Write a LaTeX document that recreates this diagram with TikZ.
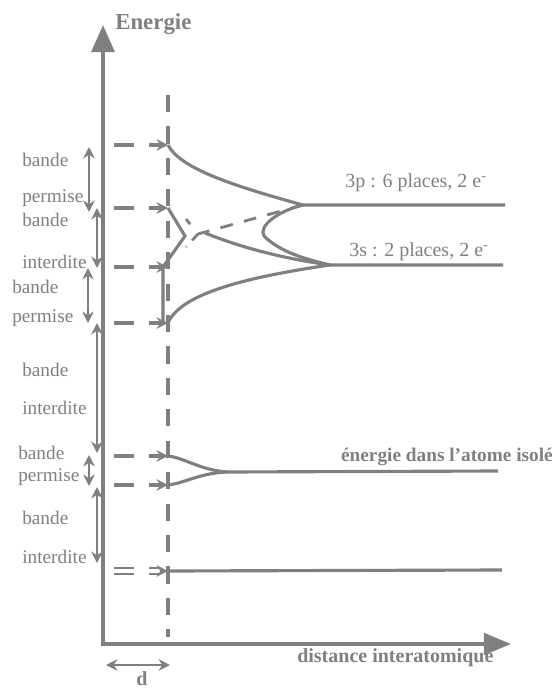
\documentclass[tikz,border=0pt]{standalone}
\usepackage{fontspec}
\setmainfont{Liberation Serif}
\usetikzlibrary{arrows.meta}
\definecolor{gris}{RGB}{128,128,128}
\begin{document}
\begin{tikzpicture}[x=0.7pt,y=-0.7pt,
  axe/.style={draw=gris,line width=2.8pt,{Triangle[length=19pt,width=16pt]}-{Triangle[length=19pt,width=15pt]}},
  courbe/.style={draw=gris,line width=2.2pt},
  pointille/.style={draw=gris,line width=2.4pt,dash pattern=on 12pt off 10pt},
  projection/.style={draw=gris,line width=2.4pt,dash pattern=on 14pt off 10.5pt,-{Stealth[length=8pt,width=8pt]}},
  fleche/.style={draw=gris,line width=2pt,{Stealth[length=8pt,width=8pt]}-{Stealth[length=8pt,width=8pt]}},
  etiq/.style={text=gris,inner sep=0pt,font=\fontsize{13.5}{15}\selectfont},
  titre/.style={text=gris,inner sep=0pt,font=\fontsize{14}{16}\selectfont\bfseries}]
\useasboundingbox (0,0) rectangle (556,688);

\coordinate (O) at (103,644);
\coordinate (yaxe) at (103,25);
\coordinate (xaxe) at (511,644);
\draw[axe] (yaxe) -- (O) -- (xaxe);
\node[titre,font=\fontsize{16}{18}\selectfont\bfseries,anchor=west] (energie) at (115,24) {Energie};
\node[titre,anchor=west] (distance) at (297,658) {distance interatomique};

\coordinate (dh) at (168,95);
\coordinate (db) at (168,637);
\draw[pointille] (dh) -- (db);

\foreach \y [count=\i] in {145,208,267,323,456,485} {
  \coordinate (p\i) at (114,\y);
  \coordinate (n\i) at (168,\y);
  \draw[projection] (p\i) -- (n\i);
}
\coordinate (p7) at (114,571);
\coordinate (n7) at (168,571);
\draw[projection,line width=1.3pt,double=white,double distance=2.6pt] (p7) -- (n7);

\foreach \x/\ya/\yb [count=\i] in {89/147/212, 97/208/268, 88/268/323, 97/323/453, 89/455/486, 97/487/563} {
  \coordinate (fh\i) at (\x,\ya);
  \coordinate (fb\i) at (\x,\yb);
  \draw[fleche] (fh\i) -- (fb\i);
}
\foreach \x/\y/\t [count=\i] in {22/160/bande, 22/198/permise, 22/220/bande, 22/262/interdite,
  12/287/bande, 12/318/permise, 22/370/bande, 22/408/interdite,
  18/453/bande, 18/477/permise, 22/518/bande, 22/557/interdite}
  \node[etiq,anchor=west] (b\i) at (\x,\y) {\t};

\coordinate (c3p) at (303,205);
\coordinate (c3s) at (330,265);
\coordinate (f3p) at (505,205);
\coordinate (f3s) at (503,265);
\coordinate (x1) at (198,234);
\draw[courbe] (n1) .. controls (180,168) and (230,185) .. (c3p) -- (f3p);
\draw[courbe] (c3p) .. controls (278,211) and (258,226) .. (264,236) .. controls (280,252) and (305,259) .. (c3s) -- (f3s);
\draw[courbe] (205,233) .. controls (240,247) and (280,258) .. (c3s);
\draw[courbe] (c3s) .. controls (240,278) and (180,295) .. (n4);
\draw[courbe] (n2) -- (185,236) -- (163,267) -- (163,323);
\draw[pointille,line width=2pt,dash pattern=on 9pt off 8pt] (c3p) -- (x1) -- (186,219);
\draw[pointille,line width=2pt,dash pattern=on 6pt off 6pt] (x1) -- (186,247);
\node[etiq,font=\fontsize{14}{16}\selectfont,anchor=west] (niv3p) at (345,183) {3p : 6 places, 2 e\textsuperscript{-}};
\node[etiq,font=\fontsize{14}{16}\selectfont,anchor=west] (niv3s) at (349,252) {3s : 2 places, 2 e\textsuperscript{-}};

\coordinate (cb) at (227,472);
\coordinate (fb) at (498,471);
\draw[courbe] (n5) .. controls (185,458) and (200,470) .. (cb);
\draw[courbe] (n6) .. controls (185,483) and (200,473) .. (cb) -- (fb);
\node[titre,font=\fontsize{13.5}{15}\selectfont\bfseries,anchor=east] (isole) at (553,457) {énergie dans l'atome isolé};

\coordinate (f7) at (502,570);
\draw[courbe] (n7) -- (f7);

\coordinate (d1) at (106,665);
\coordinate (d2) at (170,665);
\draw[fleche] (d1) -- (d2);
\node[titre,anchor=south] (d) at (142,686) {d};
\end{tikzpicture}
\end{document}
